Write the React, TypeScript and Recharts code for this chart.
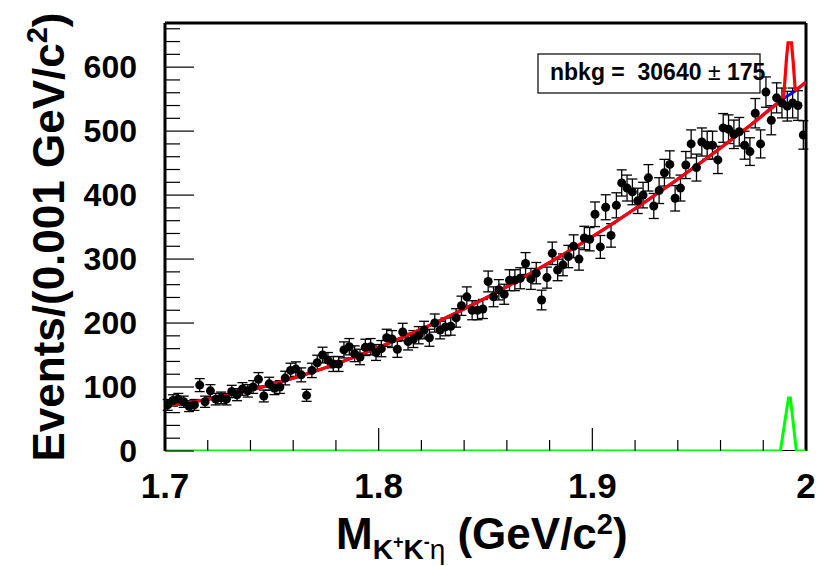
import React from "react";
import {
  ComposedChart,
  Customized,
  ErrorBar,
  Line,
  ReferenceLine,
  Scatter,
  XAxis,
  YAxis,
} from "recharts";

// histogram binning of M(K+K-eta)
const binLow = 1.7;
const binWidth = 0.0025;

// events per bin
const counts = [
  72, 79, 81, 77, 70, 72, 103, 77, 94, 81,
  83, 81, 93, 88, 97, 94, 100, 112, 86, 105,
  98, 100, 114, 126, 128, 119, 87, 126, 138, 150,
  142, 136, 136, 158, 163, 152, 147, 162, 163, 154,
  160, 177, 175, 159, 186, 171, 175, 181, 189, 177,
  200, 189, 194, 195, 208, 227, 241, 220, 220, 222,
  265, 241, 252, 245, 267, 267, 270, 293, 269, 278,
  236, 271, 309, 283, 291, 304, 320, 300, 333, 331,
  370, 319, 381, 337, 384, 419, 411, 405, 391, 400,
  427, 383, 407, 435, 448, 395, 411, 447, 480, 443,
  483, 478, 478, 455, 505, 503, 495, 499, 478, 468,
  528, 480, 561, 517, 552, 544, 539, 544, 540, 494,
];

// background component of the fit
const bkgMass = [1.7, 1.725, 1.75, 1.775, 1.8, 1.825, 1.85, 1.875, 1.9, 1.925, 1.95, 1.975, 1.9895, 1.995, 2.0];
const bkgFit = [70, 84, 104, 130, 162, 198, 239, 285, 335, 390, 449, 512, 551, 563, 577];

// total fit across the signal peak
const peakMass = [1.9895, 1.9909, 1.9916, 1.9932, 1.9939, 1.995];
const peakFit = [551, 615, 638, 638, 612, 563];

// signal component
const sigMass = [1.7, 1.988, 1.9918, 1.9927, 1.9955, 2.0];
const sigFit = [0, 0, 83, 83, 0, 0];

// the x axis baseline, drawn as a series so the signal curve sits on top of it
const axisMass = [1.7, 2.0];
const axisLevel = [0, 0];

const xTicks = [
  1.7, 1.72, 1.74, 1.76, 1.78, 1.8, 1.82, 1.84, 1.86, 1.88,
  1.9, 1.92, 1.94, 1.96, 1.98, 2.0,
];
const yTicks = [
  0, 20, 40, 60, 80, 100, 120, 140, 160, 180, 200, 220, 240, 260, 280, 300, 320,
  340, 360, 380, 400, 420, 440, 460, 480, 500, 520, 540, 560, 580, 600, 620, 640, 660,
];

const yMax = 669;
const font = "'Liberation Sans', Arial, Helvetica, sans-serif";

const points = counts.map((n, i) => ({
  x: binLow + (i + 0.5) * binWidth,
  y: n,
  err: Math.sqrt(n),
}));
const toXY = (xs: number[], ys: number[]) => xs.map((x, i) => ({ x, y: ys[i] }));

const bkgLine = toXY(bkgMass, bkgFit);
const totalLow = bkgLine.filter((p) => p.x <= peakMass[0]);
const totalPeak = toXY(peakMass, peakFit);
const totalHigh = bkgLine.filter((p) => p.x >= peakMass[peakMass.length - 1]);
const sigLine = toXY(sigMass, sigFit);
const axisLine = toXY(axisMass, axisLevel);

function YTick({ x, y, payload }: any) {
  const major = payload.value % 100 === 0;
  return (
    <g>
      <line x1={x} x2={x + (major ? 29 : 15)} y1={y} y2={y} stroke="#000" strokeWidth={1.2} />
      {major && (
        <text x={x - 28} y={y + 11} textAnchor="end" fontFamily={font} fontWeight="bold" fontSize={32} fill="#000">
          {payload.value}
        </text>
      )}
    </g>
  );
}

function XTick({ x, y, payload }: any) {
  const v = payload.value;
  const major = Math.abs(v * 10 - Math.round(v * 10)) < 1e-6;
  return (
    <g>
      <line x1={x} x2={x} y1={y} y2={y - (major ? 23 : 11)} stroke="#000" strokeWidth={1.2} />
      {major && (
        <text x={x} y={y + 47} textAnchor="middle" fontFamily={font} fontWeight="bold" fontSize={35} fill="#000">
          {String(Math.round(v * 10) / 10)}
        </text>
      )}
    </g>
  );
}

function Dot({ cx, cy }: any) {
  return <circle cx={cx} cy={cy} r={4.5} fill="#000" />;
}

function Annotations() {
  return (
    <g fontFamily={font} fontWeight="bold" fill="#000">
      <text transform="rotate(-90, 64, 237)" x={64} y={237} textAnchor="middle" fontSize={44}>
        <tspan>Events/(0.001 GeV/c</tspan>
        <tspan dy={-17} fontSize={29}>2</tspan>
        <tspan dy={17}>)</tspan>
      </text>
      <text x={336} y={549} fontSize={44}>
        <tspan>M</tspan>
        <tspan dy={10} fontSize={28}>K</tspan>
        <tspan dy={-11} fontSize={18}>+</tspan>
        <tspan dy={11} fontSize={28}>K</tspan>
        <tspan dy={-11} fontSize={18}>-</tspan>
        <tspan dy={11} fontSize={28} fontWeight="normal">η</tspan>
        <tspan dy={-10}> (GeV/c</tspan>
        <tspan dy={-15} fontSize={29}>2</tspan>
        <tspan dy={15}>)</tspan>
      </text>
      <rect x={538} y={54} width={222} height={39} fill="#fff" stroke="#000" strokeWidth={1.2} />
      <text x={550} y={80} fontSize={23} xmlSpace="preserve">
        <tspan>nbkg =  30640 </tspan>
        <tspan fontWeight="normal">±</tspan>
        <tspan> 175</tspan>
      </text>
    </g>
  );
}

export default function App() {
  return (
    <div style={{ position: "absolute", left: 0, top: 0, width: 820, height: 566, background: "#fff" }}>
      <ComposedChart width={820} height={566} margin={{ top: 23, right: 14, bottom: 0, left: 0 }}>
        <XAxis
          dataKey="x"
          type="number"
          domain={[1.7, 2.0]}
          ticks={xTicks}
          interval={0}
          allowDataOverflow
          height={115}
          tickSize={0}
          tickMargin={0}
          tickLine={false}
          axisLine={false}
          tick={<XTick />}
        />
        <YAxis
          dataKey="y"
          type="number"
          domain={[0, yMax]}
          ticks={yTicks}
          interval={0}
          allowDataOverflow
          width={165}
          tickSize={0}
          tickMargin={0}
          tickLine={false}
          axisLine={{ stroke: "#000", strokeWidth: 3 }}
          tick={<YTick />}
        />
        <ReferenceLine y={yMax} stroke="#000" strokeWidth={3} />
        <ReferenceLine x={2.0} stroke="#000" strokeWidth={3} />
        <Scatter data={points} shape={<Dot />} isAnimationActive={false}>
          <ErrorBar dataKey="err" direction="y" width={5} stroke="#000" strokeWidth={1.3} />
        </Scatter>
        <Line data={axisLine} dataKey="y" type="linear" stroke="#000" strokeWidth={2} dot={false} isAnimationActive={false} />
        <Line data={bkgLine} dataKey="y" type="monotone" stroke="#0000ff" strokeWidth={3} dot={false} isAnimationActive={false} />
        <Line data={totalLow} dataKey="y" type="monotone" stroke="#ff0000" strokeWidth={3.2} dot={false} isAnimationActive={false} />
        <Line data={totalPeak} dataKey="y" type="linear" stroke="#ff0000" strokeWidth={3.2} dot={false} isAnimationActive={false} />
        <Line data={totalHigh} dataKey="y" type="linear" stroke="#ff0000" strokeWidth={3.2} dot={false} isAnimationActive={false} />
        <Line data={sigLine} dataKey="y" type="linear" stroke="#00ff00" strokeWidth={3} dot={false} isAnimationActive={false} />
        <Customized component={<Annotations />} />
      </ComposedChart>
    </div>
  );
}
